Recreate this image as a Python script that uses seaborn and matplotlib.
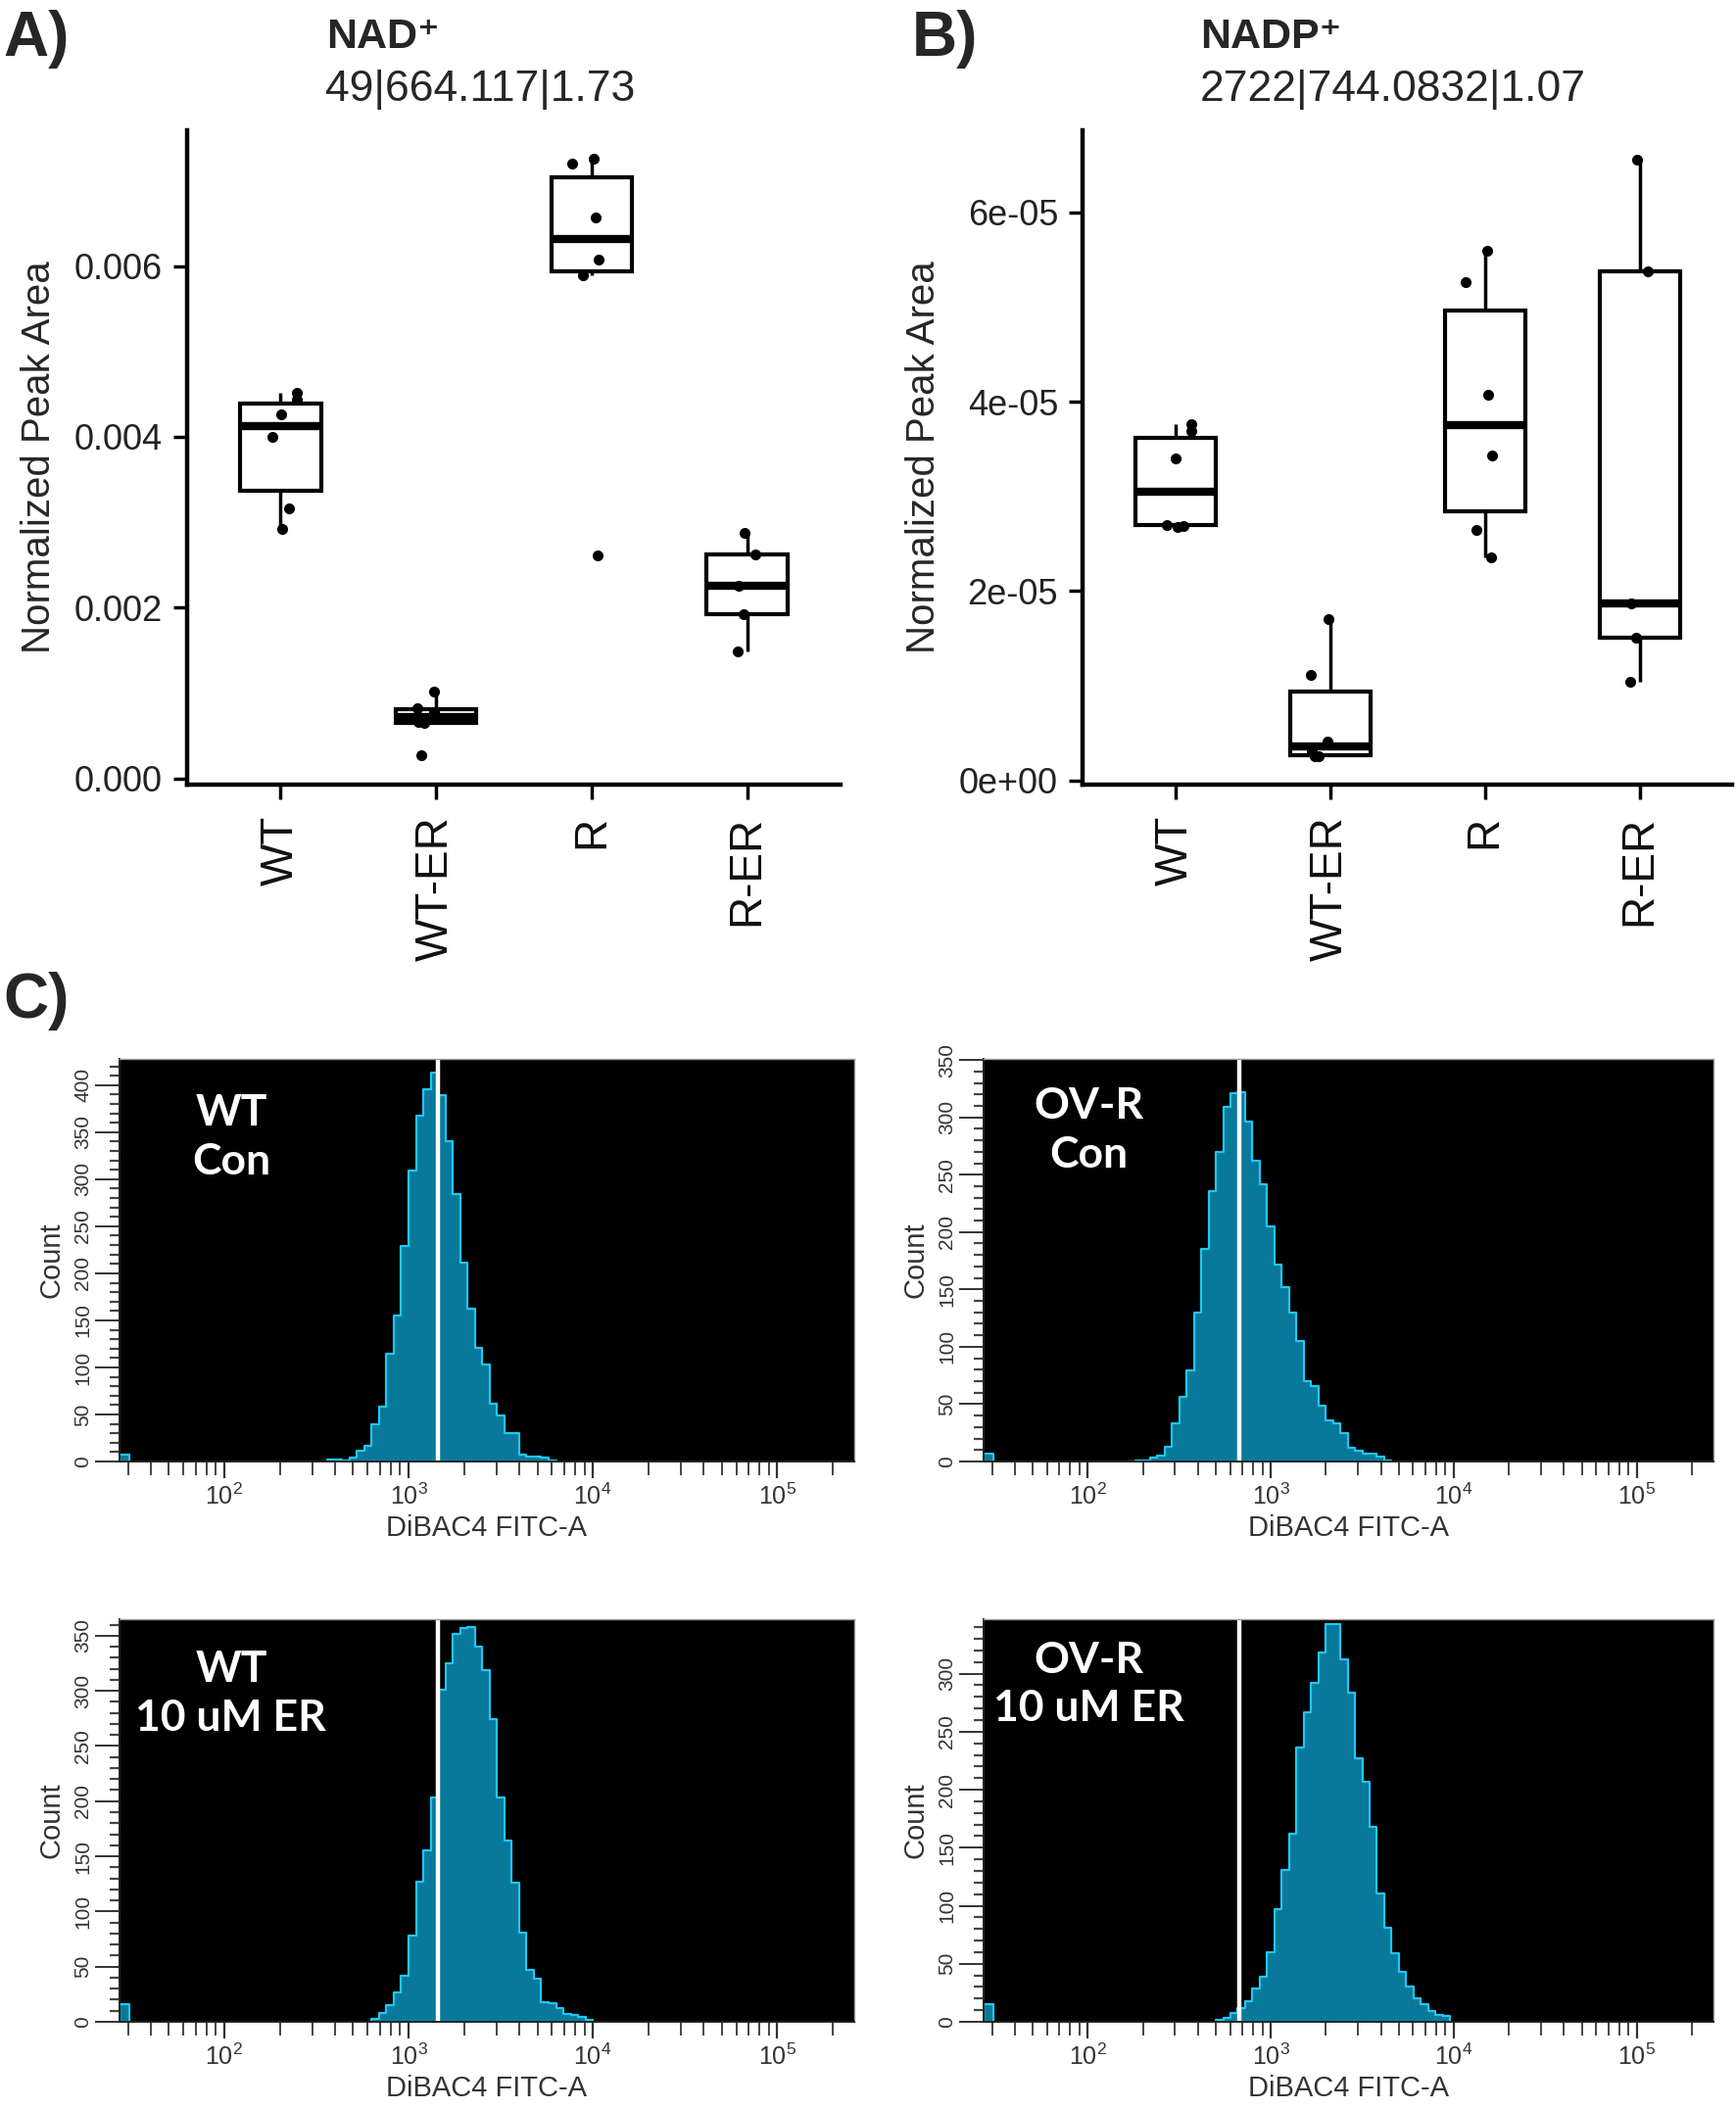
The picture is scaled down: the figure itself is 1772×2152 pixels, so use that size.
import numpy as np
import pandas as pd
import matplotlib
matplotlib.use("Agg")
import matplotlib.pyplot as plt
import matplotlib.ticker as mticker
import seaborn as sns

# ---- panel A / B : normalized peak areas ----
GROUPS = ["WT", "WT-ER", "R", "R-ER"]

NAD_WT = [0.00292, 0.00316, 0.00400, 0.00426, 0.00443, 0.00452]
NAD_WT_ER = [0.00027, 0.00065, 0.00066, 0.00078, 0.00082, 0.00102]
NAD_R = [0.00261, 0.00589, 0.00607, 0.00657, 0.00720, 0.00726]
NAD_R_ER = [0.00149, 0.00192, 0.00226, 0.00262, 0.00288]

NADP_WT = [2.68e-05, 2.69e-05, 2.70e-05, 3.40e-05, 3.69e-05, 3.76e-05]
NADP_WT_ER = [0.25e-05, 0.25e-05, 0.31e-05, 0.41e-05, 1.11e-05, 1.70e-05]
NADP_R = [2.35e-05, 2.64e-05, 3.43e-05, 4.07e-05, 5.26e-05, 5.59e-05]
NADP_R_ER = [1.04e-05, 1.51e-05, 1.87e-05, 5.38e-05, 6.56e-05]

NAD_TICKS = [0.000, 0.002, 0.004, 0.006]
NADP_TICKS = [0, 2e-05, 4e-05, 6e-05]

# ---- panel C : DiBAC4 histograms (counts per 0.04-decade channel) ----
LOG_STEP = 0.04
TL_START = 2.56
TL_COUNTS = [2, 2, 1, 4, 11, 17, 40, 58, 115, 155, 229, 309, 368, 396, 413, 389,
             340, 284, 211, 162, 121, 103, 61, 49, 30, 30, 7, 5, 5, 4, 1]
TR_START = 2.22
TR_COUNTS = [0, 1, 1, 3, 5, 13, 33, 56, 79, 130, 185, 236, 270, 309, 321, 322,
             296, 262, 242, 205, 172, 152, 130, 105, 70, 66, 49, 36, 33, 25, 12,
             9, 7, 7, 4, 1]
BL_START = 2.80
BL_COUNTS = [3, 8, 15, 27, 42, 78, 127, 155, 203, 301, 325, 352, 357, 358, 340,
             319, 274, 203, 164, 126, 81, 47, 39, 18, 17, 12, 7, 6, 4, 2]
BR_START = 2.70
BR_COUNTS = [2, 3, 8, 12, 18, 29, 39, 60, 97, 131, 162, 236, 267, 292, 318, 343,
             343, 312, 284, 227, 207, 168, 111, 81, 59, 43, 30, 20, 15, 9, 6, 5]
EDGE_COUNTS = [7, 7, 16, 15]
HIST_YMAX = [428, 351, 365, 347]
HIST_REF = [1450, 670, 1450, 670]
HIST_LABELS = ["WT\nCon", "OV-R\nCon", "WT\n10 uM ER", "OV-R\n10 uM ER"]
X_MIN, X_MAX = 27, 262144

sns.set_theme(style="ticks")
plt.rcParams["font.family"] = ["Liberation Sans", "DejaVu Sans"]

fig = plt.figure(figsize=(17.72, 21.52), dpi=100)


def box_panel(ax, values, ylim, ticks, fmt):
    df = pd.DataFrame({
        "group": [g for g, v in zip(GROUPS, values) for _ in v],
        "value": [x for v in values for x in v],
    })
    sns.boxplot(data=df, x="group", y="value", order=GROUPS, width=0.52,
                color="white", linecolor="black", linewidth=3, showcaps=False,
                showfliers=False, medianprops={"linewidth": 6},
                whiskerprops={"linewidth": 2.5}, ax=ax)
    np.random.seed(3)
    sns.stripplot(data=df, x="group", y="value", order=GROUPS, jitter=0.13,
                  color="black", size=8, ax=ax)
    ax.set_xlim(-0.6, 3.6)
    ax.set_ylim(*ylim)
    ax.set_yticks(ticks)
    ax.yaxis.set_major_formatter(mticker.FuncFormatter(fmt))
    ax.set_xlabel("")
    ax.set_ylabel("Normalized Peak Area", fontsize=29, labelpad=12)
    ax.tick_params(axis="y", labelsize=26, length=10, width=2.5, color="black",
                   labelcolor="#222222", pad=8)
    ax.tick_params(axis="x", labelsize=33, length=11, width=2.5, color="black",
                   labelcolor="#111111", labelrotation=90, pad=12)
    sns.despine(ax=ax)
    for s in ("left", "bottom"):
        ax.spines[s].set_linewidth(3.2)
        ax.spines[s].set_color("black")


ax_a = fig.add_axes([0.1078, 0.6278, 0.3764, 0.3104])
box_panel(ax_a, [NAD_WT, NAD_WT_ER, NAD_R, NAD_R_ER], (-0.000073, 0.00759),
          NAD_TICKS, lambda v, p: f"{v:.3f}")
ax_b = fig.add_axes([0.6236, 0.6278, 0.3744, 0.3104])
box_panel(ax_b, [NADP_WT, NADP_WT_ER, NADP_R, NADP_R_ER], (-0.046e-05, 6.867e-05),
          NADP_TICKS, lambda v, p: f"{v:.0e}")

fig.text(0.002, 1 - 40 / 2152, "A)", fontsize=46, fontweight="bold", va="center")
fig.text(931 / 1772, 1 - 40 / 2152, "B)", fontsize=46, fontweight="bold", va="center")
fig.text(333 / 1772, 1 - 38 / 2152, "NAD⁺", fontsize=31, fontweight="bold", va="center")
fig.text(332 / 1772, 1 - 92 / 2152, "49|664.117|1.73", fontsize=32, va="center")
fig.text(1225 / 1772, 1 - 38 / 2152, "NADP⁺", fontsize=31, fontweight="bold", va="center")
fig.text(1225 / 1772, 1 - 92 / 2152, "2722|744.0832|1.07", fontsize=32, va="center")
fig.text(0.002, 1 - 1022 / 2152, "C)", fontsize=46, fontweight="bold", va="center")

FILL = "#08799a"
EDGE = "#21c6f2"

hist_axes = [
    [0.0688, 0.3067, 0.4233, 0.1910],
    [0.5666, 0.3067, 0.4204, 0.1910],
    [0.0688, 0.0409, 0.4233, 0.1910],
    [0.5666, 0.0409, 0.4204, 0.1910],
]
hist_data = [(TL_START, TL_COUNTS), (TR_START, TR_COUNTS),
             (BL_START, BL_COUNTS), (BR_START, BR_COUNTS)]
label_pos = [(0.152, 0.805), (0.144, 0.822), (0.152, 0.815), (0.144, 0.838)]

for i, rect in enumerate(hist_axes):
    ax = fig.add_axes(rect)
    ax.set_facecolor("black")
    start, counts = hist_data[i]
    n = len(counts)
    centers = 10 ** (start + LOG_STEP * (np.arange(n) + 0.5))
    sns.histplot(x=centers, weights=counts, bins=n,
                 binrange=(start, start + LOG_STEP * n), log_scale=True,
                 element="step", fill=True, facecolor=FILL, edgecolor=EDGE,
                 alpha=1, linewidth=1.6, ax=ax)
    sns.histplot(x=[28.5], weights=[EDGE_COUNTS[i]], bins=1,
                 binrange=(np.log10(X_MIN), np.log10(30.5)), log_scale=True,
                 element="step", fill=True, facecolor=FILL, edgecolor=EDGE,
                 alpha=1, linewidth=1.6, ax=ax)
    ax.axvline(HIST_REF[i], color="white", lw=3.2)
    ax.set_xlim(X_MIN, X_MAX)
    ax.set_ylim(0, HIST_YMAX[i])
    ax.yaxis.set_major_locator(mticker.MultipleLocator(50))
    ax.yaxis.set_minor_locator(mticker.MultipleLocator(10))
    ax.xaxis.set_major_locator(mticker.LogLocator(base=10, numticks=10))
    ax.xaxis.set_minor_locator(mticker.LogLocator(base=10, subs=np.arange(2, 10), numticks=20))
    ax.xaxis.set_major_formatter(mticker.LogFormatterMathtext())
    ax.xaxis.set_minor_formatter(mticker.NullFormatter())
    ax.tick_params(axis="y", which="major", length=18, width=1.4, labelsize=15,
                   labelrotation=90, pad=2, colors="#333333")
    ax.tick_params(axis="y", which="minor", length=7, width=1.6, color="#444444")
    ax.tick_params(axis="x", which="major", length=12, width=1.6, labelsize=18,
                   pad=4, colors="#333333")
    ax.tick_params(axis="x", which="minor", length=10, width=1.4, color="#444444")
    for lab in ax.get_yticklabels():
        lab.set_va("center")
    ax.set_xlabel("DiBAC4 FITC-A", fontsize=21, color="#333333", labelpad=4)
    ax.set_ylabel("Count", fontsize=21, color="#333333", labelpad=6)
    for s in ("top", "right"):
        ax.spines[s].set_color("#9a9a9a")
        ax.spines[s].set_linewidth(1)
    for s in ("left", "bottom"):
        ax.spines[s].set_color("#222222")
        ax.spines[s].set_linewidth(1.4)
    lx, ly = label_pos[i]
    ax.text(lx, ly, HIST_LABELS[i], transform=ax.transAxes, ha="center",
            va="center", color="white", fontsize=32, fontweight="bold",
            family=["Lato", "DejaVu Sans"], linespacing=1.3)

fig.savefig("out.png", dpi=100)
